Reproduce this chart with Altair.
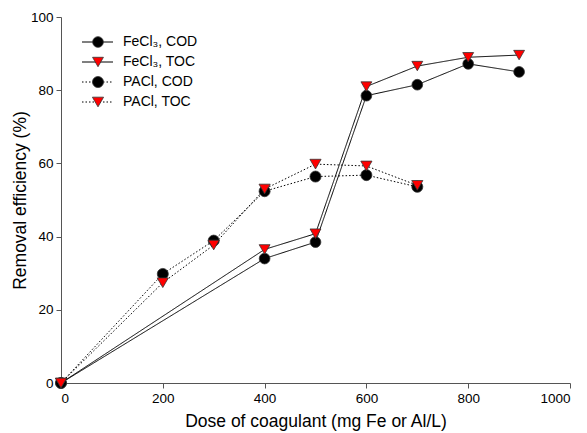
import altair as alt
import pandas as pd

# ---- data ----
doses_fe = [0, 400, 500, 600, 700, 800, 900]
fe_cod = [0, 34.0, 38.5, 78.5, 81.5, 87.2, 85.0]
fe_toc = [0, 36.5, 40.8, 81.0, 86.6, 89.0, 89.6]

doses_pac = [0, 200, 300, 400, 500, 600, 700]
pac_cod = [0, 29.8, 38.9, 52.4, 56.4, 56.8, 53.6]
pac_toc = [0, 27.4, 37.7, 53.0, 59.8, 59.3, 54.0]

series_names = ["FeCl₃, COD", "FeCl₃, TOC", "PACl, COD", "PACl, TOC"]

rows = []
for name, xs, ys in [
    (series_names[0], doses_fe, fe_cod),
    (series_names[2], doses_pac, pac_cod),
    (series_names[1], doses_fe, fe_toc),
    (series_names[3], doses_pac, pac_toc),
]:
    for i, (x, y) in enumerate(zip(xs, ys)):
        rows.append({"series": name, "dose": x, "eff": y, "i": i})
df = pd.DataFrame(rows)
leg = pd.DataFrame({"series": series_names})

dash_scale = alt.Scale(domain=series_names, range=[[1, 0], [1, 0], [1.5, 2], [1.5, 2]])
shape_scale = alt.Scale(domain=series_names, range=["circle", "triangle-down", "circle", "triangle-down"])
fill_scale = alt.Scale(domain=series_names, range=["black", "red", "black", "red"])
size_scale = alt.Scale(domain=series_names, range=[115, 125, 115, 125])

xenc = alt.X("dose:Q", scale=alt.Scale(domain=[0, 1000], nice=False),
             axis=alt.Axis(values=[0, 200, 400, 600, 800, 1000], format="d",
                           title="Dose of coagulant (mg Fe or Al/L)", titlePadding=8))
yscale = alt.Scale(domain=[0, 100], nice=False)

lines = alt.Chart(df).mark_line(color="black", strokeWidth=1, clip=False).encode(
    x=xenc,
    y=alt.Y("eff:Q", scale=yscale,
            axis=alt.Axis(values=[0, 20, 40, 60, 80, 100], title="Removal efficiency (%)", titlePadding=1)),
    detail="series:N",
    order="i:Q",
    strokeDash=alt.StrokeDash("series:N", scale=dash_scale, legend=None),
)

points = alt.Chart(df).mark_point(filled=True, opacity=1, clip=False, stroke="#333333", strokeWidth=0.8).encode(
    x=alt.X("dose:Q", scale=alt.Scale(domain=[0, 1000], nice=False)),
    y=alt.Y("eff:Q", scale=yscale),
    shape=alt.Shape("series:N", scale=shape_scale, legend=None),
    fill=alt.Fill("series:N", scale=fill_scale, legend=None),
    size=alt.Size("series:N", scale=size_scale, legend=None),
)

data_layer = alt.layer(lines, points)

ly = alt.Y("series:N", scale=alt.Scale(type="point", domain=series_names, range=[25, 85], padding=0), axis=None)

leg_rule = alt.Chart(leg).mark_rule(color="black", strokeWidth=1).encode(
    x=alt.value(21), x2=alt.value(52), y=ly,
    strokeDash=alt.StrokeDash("series:N", scale=dash_scale, legend=None),
)
leg_pt = alt.Chart(leg).mark_point(filled=True, opacity=1, stroke="#333333", strokeWidth=0.8).encode(
    x=alt.value(37), y=ly,
    shape=alt.Shape("series:N", scale=shape_scale, legend=None),
    fill=alt.Fill("series:N", scale=fill_scale, legend=None),
    size=alt.Size("series:N", scale=size_scale, legend=None),
)
leg_txt = alt.Chart(leg).mark_text(align="left", baseline="middle", fontSize=14,
                                   font="Liberation Sans", color="black").encode(
    x=alt.value(62), y=ly, text="series:N",
)
legend_layer = alt.layer(leg_rule, leg_pt, leg_txt)

chart = alt.layer(data_layer, legend_layer).resolve_scale(y="independent").properties(
    width=509, height=366,
    background="white",
    autosize=alt.AutoSizeParams(type="none"),
    padding={"left": 61, "top": 17, "right": 17, "bottom": 50},
).configure_view(stroke=None).configure_axis(
    grid=False,
    domainColor="#555555",
    tickColor="#555555",
    tickSize=5,
    labelFont="Liberation Sans",
    labelFontSize=13.5,
    labelColor="black",
    titleFont="Liberation Sans",
    titleFontSize=17.5,
    titleFontWeight="normal",
    titleColor="black",
    labelPadding=3,
)

chart.save("out.html", embed_options={"renderer": "svg", "actions": False})
